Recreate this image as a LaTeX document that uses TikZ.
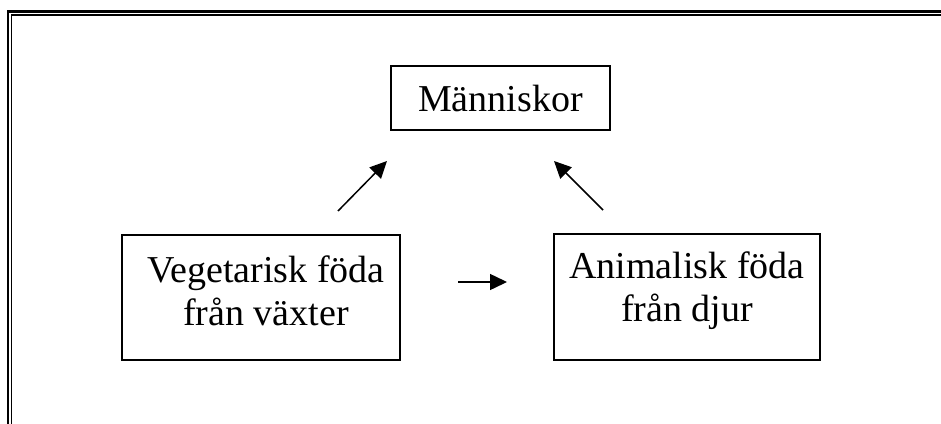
\documentclass[tikz,border=0pt]{standalone}
\usepackage{fontspec}
\setmainfont{Liberation Serif}
\usetikzlibrary{arrows.meta}
\begin{document}
\begin{tikzpicture}[x=1pt,y=-1pt,
  box/.style={draw,line width=1.4pt},
  label/.style={font=\fontsize{38}{43}\selectfont,align=center,inner sep=0pt},
  link/.style={line width=1.5pt,-{Triangle[length=17pt,width=16pt]}}]
\useasboundingbox (0,0) rectangle (941,423);
% double page frame (top and left edges)
\draw[line width=2.2pt] (8,430) -- (8,11.5) -- (950,11.5);
\draw[line width=1.2pt] (11.5,430) -- (11.5,15) -- (950,15);
% boxes
\draw[box] (391,66) rectangle (610,130);
\draw[box] (122,235) rectangle (400,360);
\draw[box] (554,234) rectangle (820,360);
\node[label] (man) at (500.5,99) {Människor};
\node[label] (veg) at (266,291) {Vegetarisk föda\\från växter};
\node[label] (ani) at (687,291) {Animalisk föda\\från djur};
% connectors
\coordinate (a1) at (338,211); \coordinate (a2) at (387,161);
\coordinate (b1) at (603,210); \coordinate (b2) at (554,161);
\coordinate (c1) at (458,282); \coordinate (c2) at (507,282);
\draw[link] (a1) -- (a2);
\draw[link] (b1) -- (b2);
\draw[link] (c1) -- (c2);
\end{tikzpicture}
\end{document}
